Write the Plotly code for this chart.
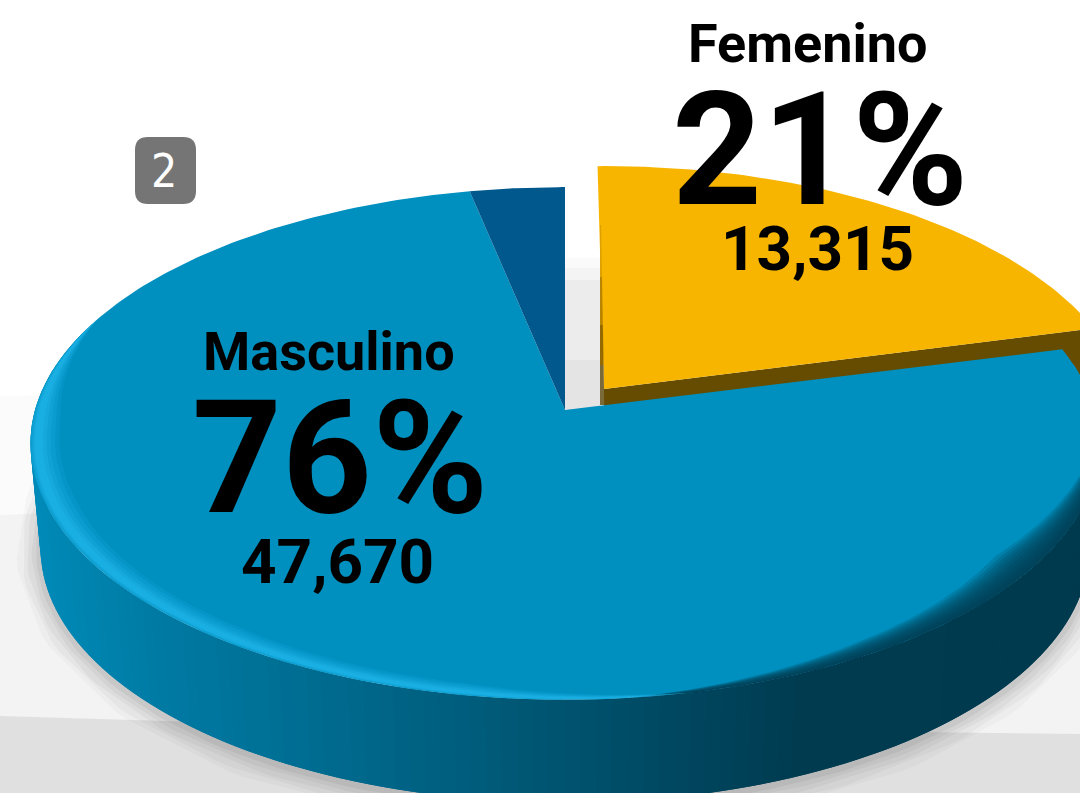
import numpy as np
import plotly.graph_objects as go

# ---- data ----
categories = ["Femenino", "Masculino", "Otro"]
percent_values = [21, 75.75, 3.25]
count_labels = ["13,315", "47,670", ""]
badge_label = "2"

# ---- colours ----
C_FEM, C_FEM_WALL = "#f7b500", "#664c00"
C_MAS, C_OTH = "#0090bf", "#00588c"

# ---- 3D pie projection (canvas pixels) ----
CX, CY, BX, AY, K = 565.0, 410.0, 530.0, 252.0, 0.1306
EX, EY = 565.0, 443.0  # centre of the projected ellipse


def top(a, dx=0.0, dy=0.0, sx=1.0):
    r = np.radians(a)
    w = 1 + K * np.cos(r)
    return CX + dx + sx * BX * np.sin(r) / w, CY + dy - AY * np.cos(r) / w


def bottom(a):
    x, y = top(a)
    return CX + 0.981 * (x - CX), 548 + 0.992 * (y - 443)


def inset(a, d):
    x, y = top(a)
    s = 1 - d / 265.0
    return EX + s * (x - EX), EY + s * (y - EY)


def lerp_hex(stops, v):
    xs = [s[0] for s in stops]
    rgb = [np.interp(v, xs, [int(s[1][i:i + 2], 16) for s in stops]) for i in (1, 3, 5)]
    return tuple(int(round(c)) for c in rgb)


fracs = np.array(percent_values, float) / sum(percent_values) * 360
ends = np.cumsum(fracs)
a_fem = (0.0, ends[0])
a_mas = (ends[0], ends[1])
a_oth = (ends[1], 360.0)

fig = go.Figure()


def poly(x, y, color, line=0):
    fig.add_trace(go.Scatter(
        x=list(x), y=list(y), mode="lines", fill="toself", fillcolor=color,
        line=dict(color=color, width=line), hoverinfo="skip", showlegend=False))


def stroke(x, y, color, width):
    fig.add_trace(go.Scatter(
        x=list(x), y=list(y), mode="lines", line=dict(color=color, width=width),
        hoverinfo="skip", showlegend=False))


def crescent(a_knots, d0_knots, d1_knots, color, n=160):
    a = np.linspace(a_knots[0], a_knots[-1], n)
    d0 = np.interp(a, a_knots, d0_knots)
    d1 = np.interp(a, a_knots, d1_knots)
    x0, y0 = inset(a, d0)
    x1, y1 = inset(a, d1)
    poly(np.r_[x0, x1[::-1]], np.r_[y0, y1[::-1]], color)


# background bands
poly([0, 1080, 1080, 0], [396, 380, 793, 793], "#fbfbfb")
poly([0, 1080, 1080, 0], [515, 470, 793, 793], "#f3f3f3")
poly([0, 300, 1080, 1080, 0], [716, 725, 734, 793, 793], "#e0e0e0")

# soft shadow under the pie
sa = np.linspace(88, 278, 120)
sx, sy = bottom(sa)
for w, op in [(48, .025), (38, .03), (28, .035), (18, .04), (9, .05)]:
    stroke(sx, sy + 2, f"rgba(0,0,0,{op})", w)

# shadow in the gap between slices
poly([565, 600, 600, 565], [258, 258, 285, 285], "#fafafa")
poly([565, 600, 600, 565], [268, 268, 290, 290], "#f4f4f4")
poly([565, 600, 600, 565], [280, 280, 362, 362], "#ececec")
poly([565, 600, 600, 565], [360, 360, 412, 412], "#e4e4e4")

# femenino wall and top
YDX, YDY, YSX = 39.0, -21.0, 0.985
fa = np.linspace(a_fem[0] - 0.8, a_fem[1], 80)
fx, fy = top(fa, YDX, YDY, YSX)
ax0, ay0 = CX + YDX, CY + YDY
wx = [ax0, fx[-1], fx[-1], ax0]
wy = [ay0, fy[-1], fy[-1] + 100, ay0 + 100]
poly(wx, wy, C_FEM_WALL)
poly(np.r_[ax0, fx], np.r_[ay0, fy], C_FEM)
# thin inner wall on the left of the yellow slice
for y0, y1, col in [(225, 277, "#dca000"), (277, 325, "#b98500"), (325, 365, "#946a00"), (365, 405, "#7a6a3a")]:
    edge0 = 600 + (y0 - 167) / (388 - 167) * 4
    edge1 = 600 + (y1 - 167) / (388 - 167) * 4
    poly([600, edge0, edge1, 600], [y0, y0, y1, y1], col)

# masculino side wall, gradient in x (each strip is overlapped by the next)
side_stops = [(30, "#008ab8"), (150, "#007ba4"), (300, "#006d92"), (565, "#00536f"),
              (800, "#003b50"), (1100, "#003a4e")]
STEP = 1.5
edges = np.arange(84, 290, STEP)
for a0, a1 in zip(edges[:-1], edges[1:]):
    a2 = a1 + STEP
    t0x, t0y = top(a0)
    t1x, t1y = top(a2)
    b0x, b0y = bottom(a0)
    b1x, b1y = bottom(a2)
    r, g, b = lerp_hex(side_stops, (t0x + top(a1)[0]) / 2)
    poly([t0x, t1x, b1x, b0x], [t0y, t1y, b1y, b0y], f"rgb({r},{g},{b})")

# masculino and other tops
ma = np.linspace(a_mas[0], a_mas[1], 300)
mx, my = top(ma)
poly(np.r_[CX, mx], np.r_[CY, my], C_MAS)
oa = np.linspace(a_oth[0], a_oth[1], 30)
ox, oy = top(oa)
poly(np.r_[CX, ox], np.r_[CY, oy], C_OTH)

# soft dark transition on the right/front of the rim
dark_a = [94, 125, 150, 174]
for f in np.linspace(1, 0.1, 10):
    crescent(dark_a, [0, 0, 0, 0], [0, 22 * f, 13 * f, 0], "rgba(0,58,78,0.2)")

# light-blue highlight along the rim
hl_a = [168, 190, 215, 250, 268, 292]
taper = np.array([0, .8, 1, 1, .9, 0])
for f, op in [(1.0, .14), (.8, .16), (.6, .2), (.42, .25), (.25, .3)]:
    off = 3.5 * taper
    half = 12.0 * f * taper
    crescent(hl_a, np.maximum(off - half * .4, 0), off + half, f"rgba(38,190,245,{op})")

# text
FONT = "Roboto"


def label(text, x, y, size, color="#000000", family=FONT, bold=True):
    fig.add_annotation(
        x=x, y=y, text=f"<b>{text}</b>" if bold else text, showarrow=False,
        xanchor="center", yanchor="middle", font=dict(family=family, size=size, color=color))


pct = [f"{v:.0f}%" for v in percent_values]
label(categories[0], 808, 43, 54)
label(pct[0], 820, 150, 157)
label(count_labels[0], 817, 248, 62)
label(categories[1], 329, 351, 54)
label(pct[1], 340, 458, 157)
label(count_labels[1], 337, 561, 62)

# badge
L, T, R, B, Q = 135, 137, 196, 204, 13
fig.add_shape(
    type="path", layer="above", fillcolor="#757575", line=dict(width=0),
    path=f"M{L + Q},{T} L{R - Q},{T} Q{R},{T} {R},{T + Q} L{R},{B - Q} Q{R},{B} {R - Q},{B} "
         f"L{L + Q},{B} Q{L},{B} {L},{B - Q} L{L},{T + Q} Q{L},{T} {L + Q},{T} Z")
label(badge_label, 164, 171, 46, "#ffffff", "DejaVu Sans Condensed, Roboto", False)

fig.update_layout(
    width=1080, height=793, margin=dict(l=0, r=0, t=0, b=0, pad=0),
    paper_bgcolor="#ffffff", plot_bgcolor="#ffffff", showlegend=False, hovermode=False,
    xaxis=dict(range=[0, 1080], visible=False, fixedrange=True),
    yaxis=dict(range=[793, 0], visible=False, fixedrange=True))
fig.write_html(
    "out.html", config=dict(displayModeBar=False),
    post_script="document.body.style.margin='0';document.body.style.overflow='hidden';")
